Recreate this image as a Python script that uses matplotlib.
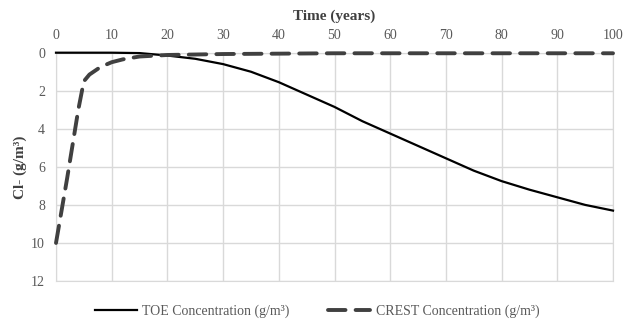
import matplotlib.pyplot as plt

# Chloride concentration over time for the two models
TIME_TOE = [0, 5, 10, 15, 20, 25, 30, 35, 40, 45, 50, 55, 60, 65, 70, 75, 80, 85, 90, 95, 100]
TOE_CONC = [0, 0, 0, 0.02, 0.15, 0.32, 0.6, 1.0, 1.55, 2.2, 2.85, 3.6, 4.25, 4.9, 5.55, 6.2, 6.75, 7.2, 7.6, 8.0, 8.3]

TIME_CREST = [0, 1, 2, 3, 4, 5, 6, 8, 10, 12, 15, 20, 30, 40, 50, 60, 70, 80, 90, 100]
CREST_CONC = [10, 8.3, 6.6, 4.8, 3.0, 1.5, 1.15, 0.75, 0.5, 0.35, 0.2, 0.12, 0.07, 0.05, 0.03, 0.03, 0.03, 0.03, 0.03, 0.03]

FONT = 'Liberation Serif'
TICK_GRAY = '#595959'
GRID_GRAY = '#d9d9d9'

plt.rcParams['font.family'] = FONT

fig = plt.figure(figsize=(6.23, 3.2), dpi=100)
ax = fig.add_axes([56 / 623, 1 - 281 / 320, (613 - 56) / 623, (281 - 52.7) / 320])

ax.plot(TIME_TOE, TOE_CONC, color='black', linewidth=1.6, clip_on=False, zorder=3,
        label='TOE Concentration (g/m³)')
ax.plot(TIME_CREST, CREST_CONC, color='#404040', linewidth=2.8, clip_on=False, zorder=3,
        dashes=(4.5, 2.6), dash_capstyle='round',
        label='CREST Concentration (g/m³)')

ax.set_xlim(0, 100)
ax.set_ylim(12, 0)
ax.set_xticks(range(0, 101, 10))
ax.set_yticks(range(0, 13, 2))
ax.xaxis.tick_top()
ax.xaxis.set_label_position('top')
ax.tick_params(length=0, labelsize=10, colors=TICK_GRAY)
ax.tick_params(axis='x', pad=8)
ax.tick_params(axis='y', pad=8)
ax.grid(True, color=GRID_GRAY, linewidth=1)
ax.set_axisbelow(True)
for spine in ax.spines.values():
    spine.set_color(GRID_GRAY)

ax.set_xlabel('Time (years)', fontsize=11, fontweight='bold', color='#404040', labelpad=6)
ax.set_ylabel('Cl- (g/m³)', fontsize=11, fontweight='bold', color='#404040', labelpad=3)

fig.legend(loc='center', bbox_to_anchor=(317 / 623, 1 - 311 / 320), ncol=2, frameon=False,
           fontsize=10, labelcolor=TICK_GRAY, handlelength=3.0, handletextpad=0.4,
           columnspacing=2.8)

fig.savefig('out.png', dpi=100)
